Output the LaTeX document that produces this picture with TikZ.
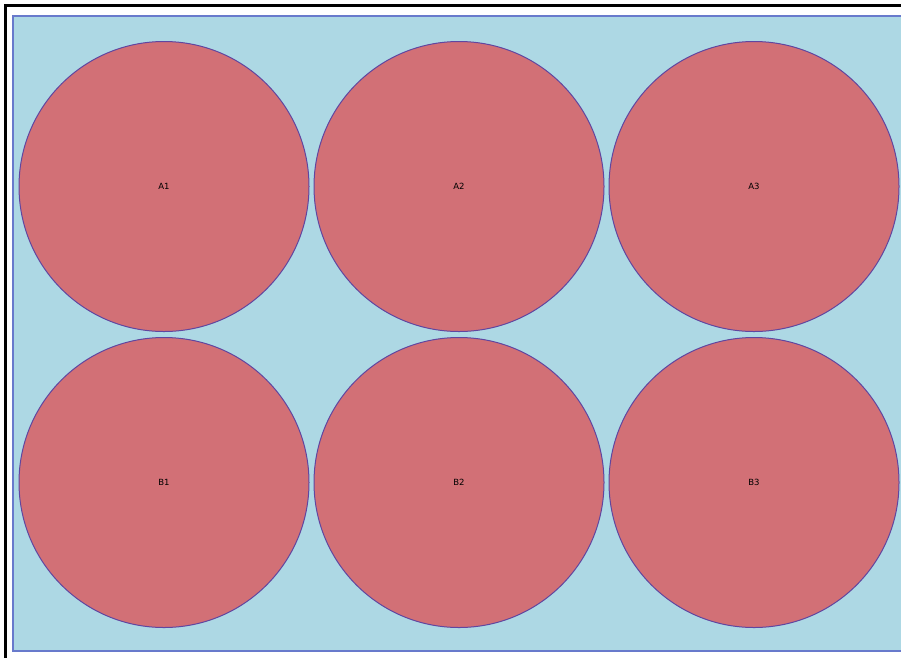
\documentclass[tikz,border=0pt]{standalone}
\usepackage{fontspec}
\setmainfont{DejaVu Sans}
\definecolor{platefill}{RGB}{173,216,228}
\definecolor{plateline}{RGB}{104,122,204}
\definecolor{wellfill}{RGB}{210,112,118}
\definecolor{wellline}{RGB}{96,70,160}
\tikzset{
  well/.style={circle, draw=wellline, line width=1pt, fill=wellfill, minimum size=290pt, inner sep=0pt, font=\fontsize{8.5}{9}\selectfont, text=black},
}
\begin{document}
\begin{tikzpicture}[x=1pt,y=-1pt]
\useasboundingbox (0,0) rectangle (901,657);
\fill[white] (0,0) rectangle (901,657);
\draw[line width=3pt, black] (5.5,700) -- (5.5,5.5) -- (950,5.5);
\draw[fill=platefill, draw=plateline, line width=2pt] (12.5,15.5) rectangle (950,650.5);
\node[well] (A1) at (164,186.5) {A1};
\node[well] (A2) at (459,186.5) {A2};
\node[well] (A3) at (754,186.5) {A3};
\node[well] (B1) at (164,482.5) {B1};
\node[well] (B2) at (459,482.5) {B2};
\node[well] (B3) at (754,482.5) {B3};
\end{tikzpicture}
\end{document}
